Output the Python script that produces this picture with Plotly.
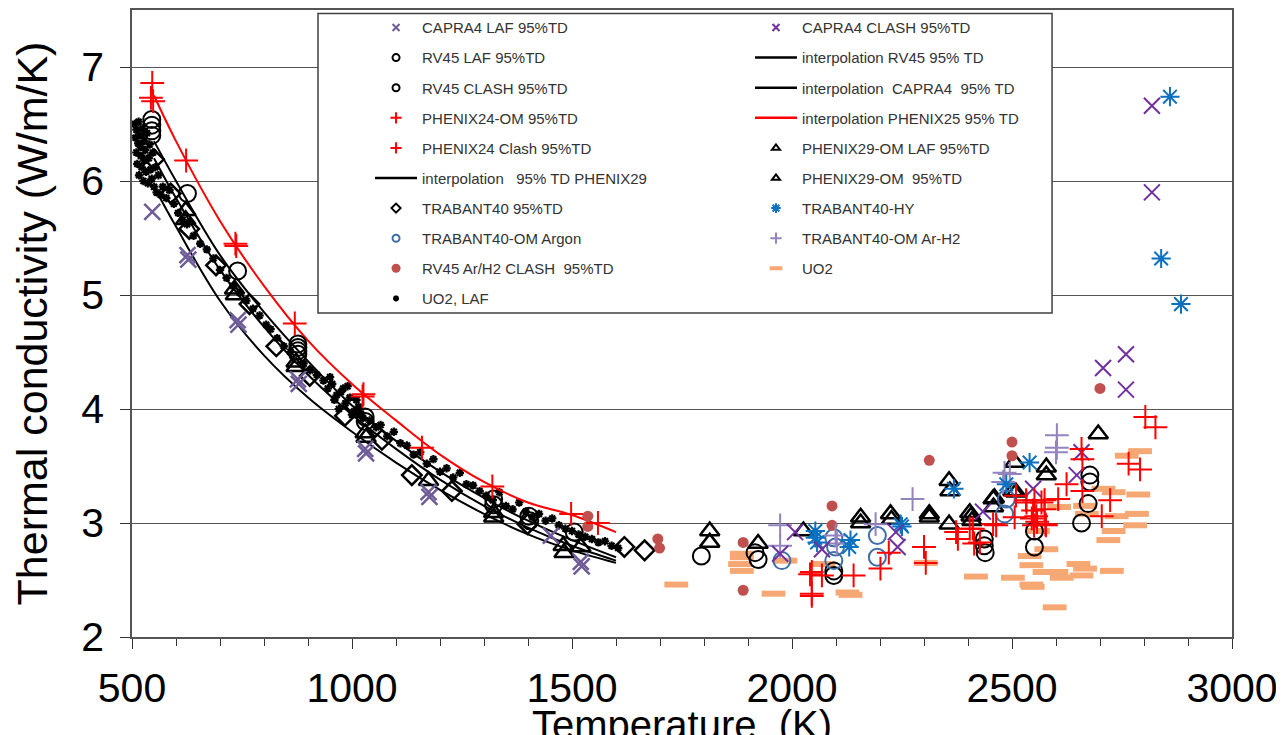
import plotly.graph_objects as go

FONT = "Liberation Sans, Arial, sans-serif"

# ---------------- data (Temperature K, conductivity W/m/K) ----------------
capra4_laf_T = [546, 626, 628, 740, 742, 877, 879, 1030, 1032, 1174, 1176, 1452, 1520, 1522]
capra4_laf_k = [5.73, 5.35, 5.31, 4.78, 4.74, 4.26, 4.22, 3.65, 3.61, 3.27, 3.23, 2.89, 2.66, 2.62]

capra4_clash_T = [1973, 2007, 2068, 2236, 2240, 2434, 2548, 2647, 2658, 2707, 2759, 2759, 2818, 2818]
capra4_clash_k = [2.73, 2.92, 2.77, 2.92, 2.79, 3.10, 3.30, 3.42, 3.62, 4.36, 4.17, 4.48, 6.66, 5.90]

rv45_laf_T = [545, 545, 545, 545, 626, 740, 877, 877, 877, 877, 1030, 1030]
rv45_laf_k = [6.54, 6.49, 6.44, 6.40, 5.89, 5.21, 4.57, 4.54, 4.51, 4.48, 3.93, 3.89]

rv45_clash_T = [1322, 1322, 1402, 1404, 1505, 1794, 1916, 1923, 2095, 2095, 2437, 2437, 2439,
                2551, 2551, 2658, 2673, 2677, 2677]
rv45_clash_k = [3.21, 3.16, 3.06, 3.02, 2.92, 2.71, 2.74, 2.68, 2.58, 2.54, 2.86, 2.80, 2.74,
                2.79, 2.93, 3.00, 3.17, 3.36, 3.42]

phenix24_om_T = [546, 543, 548, 623, 737, 735, 870, 1026, 1024, 1159, 1319, 1498, 1559]
phenix24_om_k = [6.86, 6.73, 6.70, 6.18, 5.43, 5.45, 4.75, 4.13, 4.11, 3.66, 3.32, 3.08, 3.00]

phenix24_clash_T = [2045, 2045, 2045, 2068, 2041, 2140, 2201, 2220, 2300, 2304, 2373, 2377, 2411,
                    2414, 2464, 2509, 2532, 2506, 2551, 2555, 2557, 2574, 2574, 2576, 2605, 2624,
                    2658, 2660, 2660, 2704, 2723, 2765, 2791, 2803, 2826, 2533, 2548, 2545, 2550,
                    2577, 2567, 2404, 2427, 2457]
phenix24_clash_k = [2.57, 2.38, 2.36, 2.54, 2.55, 2.54, 2.60, 2.74, 2.79, 2.65, 2.92, 2.86, 2.95,
                    2.82, 2.98, 3.24, 3.20, 3.05, 3.20, 3.06, 3.01, 3.20, 3.12, 2.99, 3.21, 3.34,
                    3.65, 3.56, 3.28, 3.06, 3.20, 3.52, 3.47, 3.93, 3.84, 3.18, 3.11, 3.04, 2.98,
                    2.98, 3.18, 2.95, 2.83, 2.99]

phenix29_laf_T = [622, 622, 733, 735, 873, 873, 1030, 1032, 1174, 1322, 1322, 1482, 1480, 1520]
phenix29_laf_k = [5.74, 5.66, 5.05, 5.00, 4.41, 4.37, 3.79, 3.75, 3.37, 3.05, 3.09, 2.74, 2.80, 2.79]

phenix29_om_T = [1813, 1813, 1923, 2026, 2156, 2156, 2224, 2226, 2312, 2312, 2357, 2359, 2357,
                 2407, 2409, 2460, 2458, 2502, 2506, 2578, 2578, 2696, 2404, 2457, 2509]
phenix29_om_k = [2.93, 2.83, 2.82, 2.93, 3.05, 3.00, 3.08, 3.03, 3.08, 3.05, 3.37, 3.28, 2.99,
                 3.06, 3.02, 3.22, 3.14, 3.28, 3.53, 3.49, 3.42, 3.78, 3.09, 3.21, 3.27]

trabant40_T = [550, 588, 630, 691, 767, 828, 904, 984, 1068, 1136, 1227, 1399, 1619, 1665]
trabant40_k = [6.19, 5.89, 5.58, 5.26, 4.92, 4.55, 4.29, 3.94, 3.73, 3.42, 3.28, 2.99, 2.79, 2.76]

trabant_ar_T = [1977, 2095, 2099, 2095, 2194, 2194, 2487, 2483]
trabant_ar_k = [2.67, 2.87, 2.79, 2.67, 2.89, 2.70, 3.21, 3.08]

trabant_hy_T = [2053, 2053, 2057, 2133, 2130, 2247, 2250, 2368, 2487, 2540, 2859, 2839, 2884]
trabant_hy_k = [2.93, 2.87, 2.83, 2.85, 2.79, 2.99, 2.97, 3.30, 3.34, 3.53, 6.74, 5.32, 4.92]

trabant_arh2_T = [1973, 1973, 2099, 2102, 2190, 2274, 2483, 2480, 2495, 2602, 2602, 2600]
trabant_arh2_k = [2.98, 2.80, 2.89, 2.82, 2.99, 3.21, 3.44, 3.36, 3.43, 3.77, 3.66, 3.62]

rv45_arh2_T = [1536, 1536, 1695, 1699, 1889, 1889, 2091, 2091, 2312, 2500, 2500, 2700]
rv45_arh2_k = [3.06, 2.97, 2.86, 2.78, 2.83, 2.41, 3.15, 2.98, 3.55, 3.71, 3.59, 4.18]

uo2_T = [1737, 1886, 1886, 1882, 1886, 1958, 1985, 2072, 2126, 2133, 2304, 2418, 2502, 2540,
         2544, 2544, 2547, 2559, 2578, 2574, 2601, 2613, 2597, 2651, 2666, 2658, 2607, 2666,
         2670, 2708, 2731, 2731, 2719, 2738, 2727, 2761, 2791, 2787, 2784, 2780]
uo2_k = [2.46, 2.73, 2.70, 2.64, 2.58, 2.38, 2.67, 2.64, 2.39, 2.37, 2.65, 2.53, 2.52, 2.71,
         2.63, 2.46, 2.44, 2.93, 2.77, 2.57, 2.57, 2.52, 2.26, 2.64, 2.60, 2.54, 3.14, 3.15,
         3.08, 3.30, 3.27, 2.93, 2.85, 3.06, 2.58, 3.59, 3.63, 3.25, 3.08, 2.98]

uo2_laf_T = [506, 508, 510, 510, 512, 514, 515, 516, 518, 520, 520, 522, 524, 526, 528, 528, 530,
             532, 534, 536, 538, 540, 542, 545, 548, 550, 553, 556, 560, 565, 570, 578, 585, 595,
             605, 615, 625, 640, 655, 670, 685, 700, 715, 730, 745, 760, 775, 790, 805, 815, 830,
             845, 860, 890, 905, 920, 935, 945, 955, 965, 975, 985, 995, 1005, 1015, 1025, 1040,
             1055, 1065, 1080, 1095, 1110, 1125, 1140, 1155, 1170, 1185, 1200, 1215, 1230, 1245,
             1260, 1275, 1290, 1305, 1320, 1335, 1350, 1365, 1380, 1395, 1410, 1425, 1440, 1455,
             1470, 1485, 1500, 1515, 1530, 1545, 1560, 1575, 1590, 1605, 950, 960, 990, 1000,
             1010, 970, 1020, 980]
uo2_laf_k = [6.50, 6.38, 6.25, 6.45, 6.15, 6.33, 6.52, 6.05, 6.40, 6.22, 6.30, 6.12, 6.46, 6.00,
             6.35, 6.18, 6.27, 6.08, 6.42, 5.98, 6.20, 6.32, 6.10, 6.02, 6.25, 5.95, 6.12, 5.90,
             6.05, 5.88, 5.95, 5.85, 5.92, 5.80, 5.72, 5.66, 5.62, 5.52, 5.45, 5.40, 5.32, 5.22,
             5.15, 5.08, 5.02, 4.95, 4.88, 4.82, 4.74, 4.70, 4.62, 4.55, 4.50, 4.40, 4.34, 4.30,
             4.25, 4.18, 4.22, 4.12, 4.15, 4.05, 4.10, 3.98, 4.02, 3.92, 3.90, 3.84, 3.86, 3.76,
             3.80, 3.70, 3.68, 3.60, 3.62, 3.52, 3.56, 3.45, 3.48, 3.40, 3.44, 3.34, 3.33, 3.28,
             3.24, 3.20, 3.27, 3.15, 3.12, 3.18, 3.10, 3.05, 3.08, 3.02, 3.04, 2.98, 2.95, 2.93,
             2.90, 2.88, 2.86, 2.83, 2.84, 2.80, 2.78, 4.28, 4.08, 4.20, 3.95, 4.08, 4.00, 3.96,
             4.18]

interp_T = [550, 600, 700, 800, 900, 1000, 1100, 1200, 1300, 1400, 1500, 1600]
interp_rv45_k = [6.35, 6.00, 5.35, 4.85, 4.42, 4.03, 3.72, 3.45, 3.22, 3.02, 2.85, 2.70]
interp_capra4_k = [5.95, 5.60, 4.95, 4.47, 4.10, 3.80, 3.53, 3.29, 3.08, 2.90, 2.76, 2.65]
interp_phenix29_k = [6.20, 5.85, 5.22, 4.72, 4.30, 3.95, 3.65, 3.38, 3.15, 2.96, 2.80, 2.67]
interp_phenix25_k = [6.75, 6.35, 5.65, 5.08, 4.60, 4.22, 3.90, 3.60, 3.36, 3.18, 3.07, 2.92]

x_ticks = [500, 1000, 1500, 2000, 2500, 3000]
y_ticks = [2, 3, 4, 5, 6, 7]

# ---------------- styles ----------------
C_CAPRA_LAF = "#6E5C98"
C_CAPRA_CLASH = "#7030A0"
C_RED = "#FF0000"
C_BLUE_C = "#3F6EA8"
C_BLUE_HY = "#0A70C0"
C_ARH2 = "#9383BE"
C_BROWN = "#C0504D"
C_ORANGE = "#F5A774"

fig = go.Figure()


def data_trace(T, k, marker):
    fig.add_trace(go.Scatter(x=T, y=k, mode="markers", marker=marker,
                             showlegend=False, hoverinfo="skip"))


def line_trace(T, k, color):
    fig.add_trace(go.Scatter(x=T, y=k, mode="lines", line=dict(color=color, width=2, shape="spline"),
                             showlegend=False, hoverinfo="skip"))


def mk(symbol, size, color, lw=2, filled=False):
    if filled:
        return dict(symbol=symbol, size=size, color=color, line=dict(width=0))
    return dict(symbol=symbol, size=size, color=color, line=dict(color=color, width=lw))


# data marks
data_trace(uo2_T, uo2_k, mk("line-ew", 17, C_ORANGE, lw=6))
data_trace(uo2_laf_T, uo2_laf_k, mk("asterisk-open", 7, "#000000", lw=2.2))
line_trace(interp_T, interp_rv45_k, "#000000")
line_trace(interp_T, interp_capra4_k, "#000000")
line_trace(interp_T, interp_phenix29_k, "#000000")
line_trace(interp_T, interp_phenix25_k, C_RED)
data_trace(trabant40_T, trabant40_k, mk("diamond-open", 15, "#000000", lw=2.5))
data_trace(rv45_laf_T, rv45_laf_k, mk("circle-open", 17, "#000000", lw=2))
data_trace(rv45_clash_T, rv45_clash_k, mk("circle-open", 17, "#000000", lw=2))
data_trace(phenix29_laf_T, phenix29_laf_k, mk("triangle-up-open", 17, "#000000", lw=2.5))
data_trace(phenix29_om_T, phenix29_om_k, mk("triangle-up-open", 17, "#000000", lw=2.5))
data_trace(trabant_ar_T, trabant_ar_k, mk("circle-open", 17, C_BLUE_C, lw=2))
data_trace(rv45_arh2_T, rv45_arh2_k, mk("circle", 11, C_BROWN, filled=True))
data_trace(trabant_arh2_T, trabant_arh2_k, mk("cross-thin-open", 17, C_ARH2, lw=2))
data_trace(trabant_hy_T, trabant_hy_k, mk("asterisk-open", 16, C_BLUE_HY, lw=2))
data_trace(capra4_laf_T, capra4_laf_k, mk("x-thin-open", 16, C_CAPRA_LAF, lw=2.5))
data_trace(capra4_clash_T, capra4_clash_k, mk("x-thin-open", 16, C_CAPRA_CLASH, lw=2))
data_trace(phenix24_om_T, phenix24_om_k, mk("cross-thin-open", 17, C_RED, lw=2))
data_trace(phenix24_clash_T, phenix24_clash_k, mk("cross-thin-open", 17, C_RED, lw=2))


# legend entries
def leg_marker(name, marker, legend, group):
    fig.add_trace(go.Scatter(x=[None], y=[None], mode="markers", marker=marker, name=name,
                             legend=legend, legendgroup=group, showlegend=True))


def leg_line(name, color, legend, group):
    fig.add_trace(go.Scatter(x=[None], y=[None], mode="lines", line=dict(color=color, width=2.5),
                             name=name, legend=legend, legendgroup=group, showlegend=True))


NB = "\u00a0"
leg_marker("CAPRA4 LAF 95%TD", mk("x-thin-open", 7, C_CAPRA_LAF, lw=2), "legend", "a1")
leg_marker("RV45 LAF 95%TD", mk("circle-open", 7, "#000000", lw=2), "legend", "a2")
leg_marker("RV45 CLASH 95%TD", mk("circle-open", 7, "#000000", lw=2), "legend", "a3")
leg_marker("PHENIX24-OM 95%TD", mk("cross-thin-open", 8, C_RED, lw=2), "legend", "a4")
leg_marker("PHENIX24 Clash 95%TD", mk("cross-thin-open", 8, C_RED, lw=2), "legend", "a5")
leg_line("interpolation" + NB * 3 + "95% TD PHENIX29", "#000000", "legend", "a6")
leg_marker("TRABANT40 95%TD", mk("diamond-open", 7, "#000000", lw=2), "legend", "a7")
leg_marker("TRABANT40-OM Argon", mk("circle-open", 7, C_BLUE_C, lw=2), "legend", "a8")
leg_marker("RV45 Ar/H2 CLASH" + NB * 2 + "95%TD", mk("circle", 9, C_BROWN, filled=True), "legend", "a9")
leg_marker("UO2, LAF", mk("asterisk-open", 5, "#000000", lw=2), "legend", "a10")

leg_marker("CAPRA4 CLASH 95%TD", mk("x-thin-open", 7, C_CAPRA_CLASH, lw=2), "legend2", "b1")
leg_line("interpolation RV45 95%" + NB + "TD", "#000000", "legend2", "b2")
leg_line("interpolation" + NB * 2 + "CAPRA4" + NB * 2 + "95%" + NB + "TD", "#000000", "legend2", "b3")
leg_line("interpolation PHENIX25 95%" + NB + "TD", C_RED, "legend2", "b4")
leg_marker("PHENIX29-OM LAF 95%TD", mk("triangle-up-open", 7, "#000000", lw=2), "legend2", "b5")
leg_marker("PHENIX29-OM" + NB * 2 + "95%TD", mk("triangle-up-open", 7, "#000000", lw=2), "legend2", "b6")
leg_marker("TRABANT40-HY", mk("asterisk-open", 8, C_BLUE_HY, lw=2), "legend2", "b7")
leg_marker("TRABANT40-OM Ar-H2", mk("cross-thin-open", 8, C_ARH2, lw=2), "legend2", "b8")
leg_marker("UO2", mk("line-ew", 9, C_ORANGE, lw=4), "legend2", "b9")

leg_common = dict(bgcolor="rgba(0,0,0,0)", borderwidth=0, xanchor="left", yanchor="top",
                  font=dict(family=FONT, size=15, color="#333333"), tracegroupgap=7.6,
                  itemwidth=42, orientation="v", traceorder="grouped")

# The page body has an 8px margin, so the margins compensate for it.
# Plot area spans 132..1232 px horizontally and 9.5..637.5 px vertically on the page.
fig.update_layout(
    width=1284, height=739,
    margin=dict(l=124, r=60, t=1.5, b=109.5),
    paper_bgcolor="white", plot_bgcolor="white",
    font=dict(family=FONT, color="#000000"),
    legend=dict(x=0.2164, y=0.998, **leg_common),
    legend2=dict(x=0.5618, y=0.998, **leg_common),
    shapes=[dict(type="rect", xref="paper", yref="paper", x0=0.1691, x1=0.8364, y0=0.5167,
                 y1=0.9944, fillcolor="white", line=dict(color="#404040", width=1.5),
                 layer="above")],
    xaxis=dict(range=[500, 3000], tickvals=x_ticks, ticks="outside", ticklen=10,
               tickcolor="#333333", tickwidth=1, showgrid=False, zeroline=False,
               showline=True, linecolor="#555555", linewidth=1.5, mirror=True,
               minor=dict(dtick=100, ticks="outside", ticklen=7, tickcolor="#333333", showgrid=False),
               tickfont=dict(family=FONT, size=41, color="#000000"),
               ticklabelstandoff=4,
               title=dict(text="Temperature  (K)", font=dict(family=FONT, size=40, color="#000000"),
                          standoff=30),
               automargin=False),
    yaxis=dict(range=[2, 7.5], tickvals=y_ticks, ticks="outside", ticklen=10,
               tickcolor="#333333", showgrid=True, gridcolor="#555555", gridwidth=1.2,
               zeroline=False, showline=True, linecolor="#555555", linewidth=1.5, mirror=True,
               tickfont=dict(family=FONT, size=41, color="#000000"),
               ticklabelstandoff=8,
               title=dict(text="Thermal conductivity (W/m/K)",
                          font=dict(family=FONT, size=43, color="#000000"), standoff=24),
               automargin=False),
)

fig.write_html("out.html")
